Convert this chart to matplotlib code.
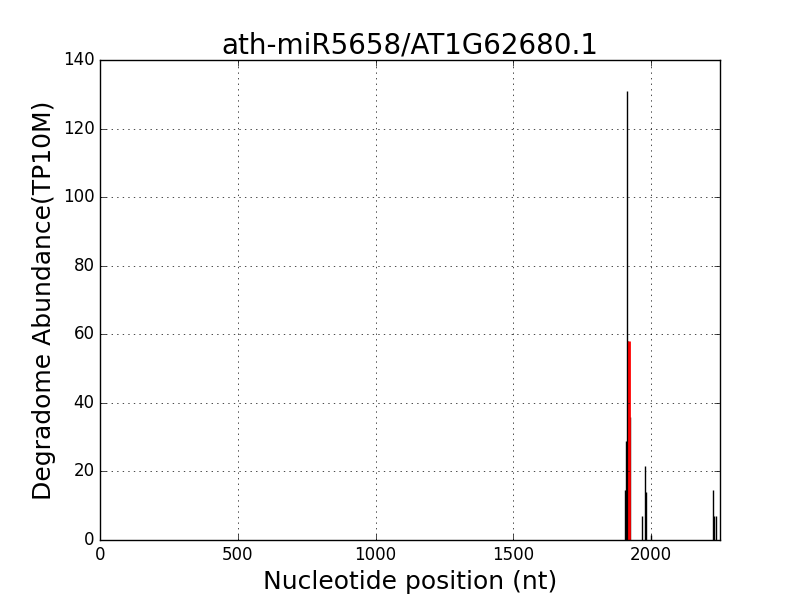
import matplotlib
matplotlib.use('Agg')
import matplotlib.pyplot as plt

# degradome read positions and abundances (TP10M)
positions = [1907, 1910, 1913, 1916, 1923, 1967, 1978, 1981, 2000, 2225, 2230, 2234]
abundance = [14.5, 29, 131, 58, 36, 7, 21.5, 14, 1.5, 14.5, 7, 7]

# predicted cleavage site
site_pos = 1920
site_val = 58

plt.style.use('classic')
fig = plt.figure(figsize=(8, 6), dpi=100, facecolor='white')
ax = fig.add_axes([0.125, 0.1, 0.775, 0.8])
ax.set_facecolor('white')

ax.vlines(positions, 0, abundance, color='black', linewidth=1)
ax.vlines([site_pos], 0, [site_val], color='red', linewidth=2)

ax.set_xlim(0, 2250)
ax.set_ylim(0, 140)
ax.grid(True, linestyle=':', color='black')
ax.set_title('ath-miR5658/AT1G62680.1', fontsize=20)
ax.set_xlabel('Nucleotide position (nt)', fontsize=18)
ax.set_ylabel('Degradome Abundance(TP10M)', fontsize=18)
ax.tick_params(labelsize=12)

fig.savefig('out.png', dpi=100, facecolor='white')
